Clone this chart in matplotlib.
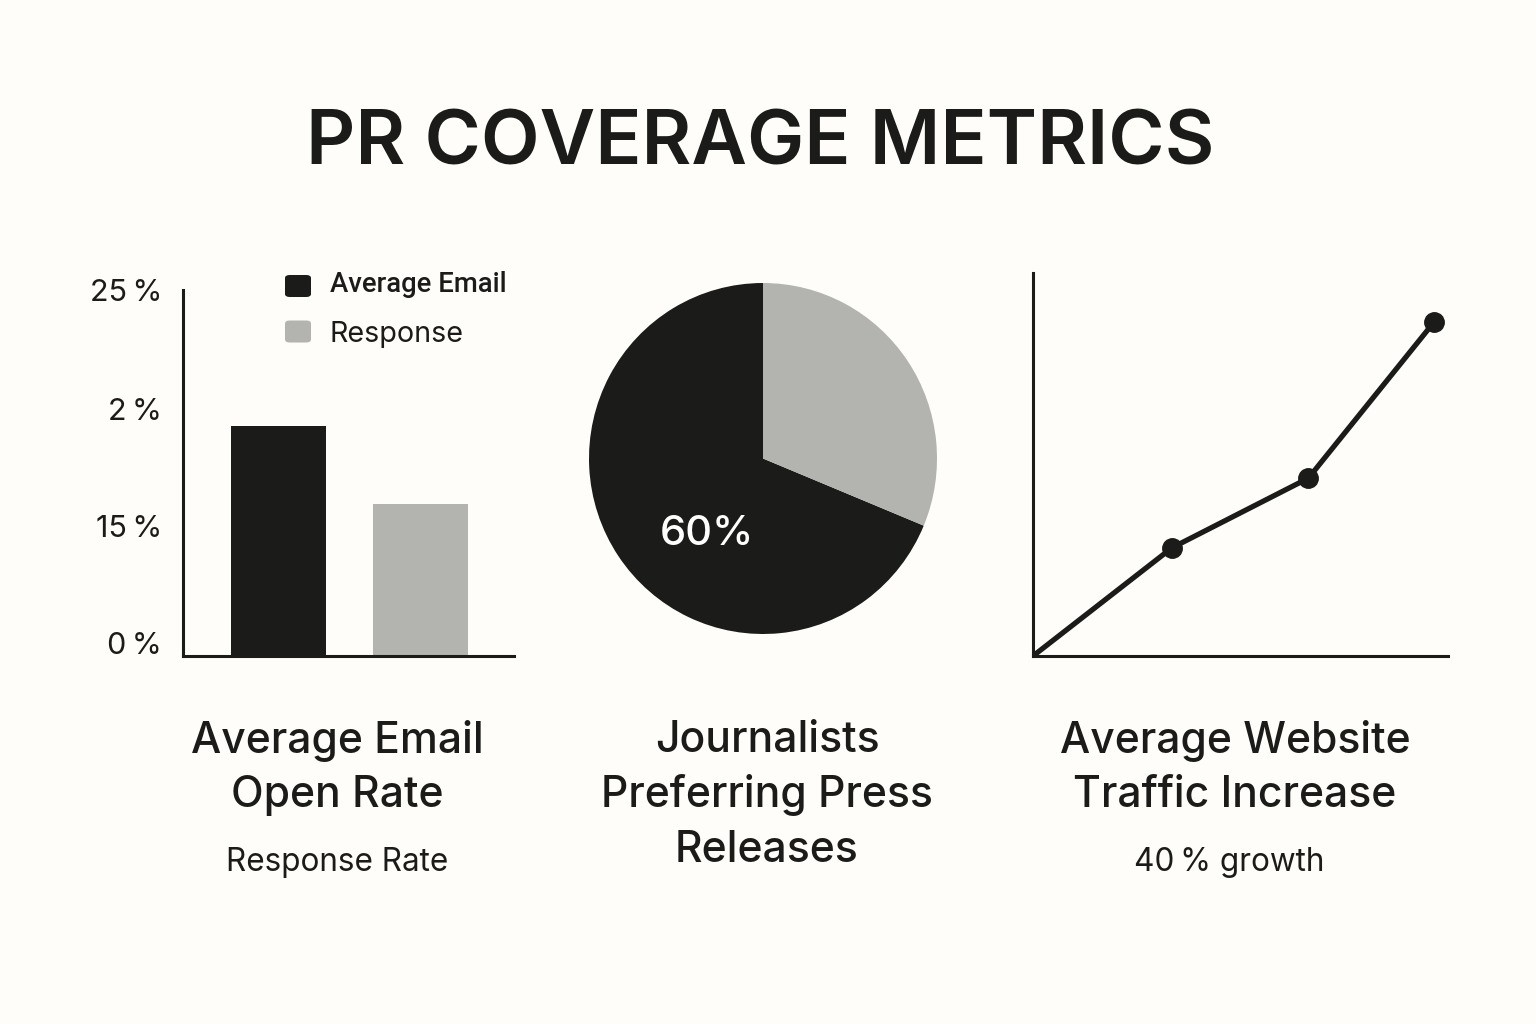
import matplotlib
matplotlib.use("Agg")
import matplotlib.pyplot as plt
from matplotlib.patches import FancyBboxPatch

plt.rcParams['font.family'] = ['Inter', 'DejaVu Sans']

INK = '#1b1b19'
GREY = '#b3b3af'
BG = '#fffdf9'

# bar panel
bar_labels = ['Average Email', 'Response']
bar_values = [15.7, 10.4]
bar_ticks = [0.9, 8.9, 16.9, 25]
bar_ticklabels = ['0\u2009%', '15\u2009%', '2\u2009%', '25\u2009%']

# pie panel
pie_values = [68.75, 31.25]
pie_label = '60%'

# line panel
line_x = [0, 1.04, 2.06, 3]
line_y = [0, 1.54, 2.53, 4.75]

panel_titles = ['Average Email\nOpen Rate', 'Journalists\nPreferring Press\nReleases', 'Average Website\nTraffic Increase']
panel_subs = ['Response Rate', '', '40\u2009% growth']


def px_axes(fig, left, top, right, bottom):
    W, H = 1536., 1024.
    return fig.add_axes([left/W, 1-bottom/H, (right-left)/W, (bottom-top)/H])


def clean_spines(ax):
    for s in ['top', 'right']:
        ax.spines[s].set_visible(False)
    for s in ['left', 'bottom']:
        ax.spines[s].set_linewidth(2.2)
        ax.spines[s].set_color(INK)


fig = plt.figure(figsize=(15.36, 10.24), dpi=100, facecolor=BG)

fig.text(760/1536, 1-145/1024, 'PR COVERAGE METRICS', ha='center', va='center',
         fontsize=55, fontweight='semibold', color=INK)

# bars
ax = px_axes(fig, 183, 290, 514, 656)
ax.set_facecolor('none')
ax.bar([0, 1], bar_values, width=0.67, color=[INK, GREY])
ax.set_xlim(-0.67, 1.66)
ax.set_ylim(0, 25)
ax.set_xticks([])
ax.set_yticks(bar_ticks)
ax.set_yticklabels(bar_ticklabels, fontsize=22, color=INK)
ax.tick_params(axis='y', length=0, pad=15)
clean_spines(ax)

# legend drawn by hand to sit at the right place
for col, y in zip([INK, GREY], [286, 331.5]):
    fig.add_artist(FancyBboxPatch((285/1536, 1-(y+11)/1024), 26/1536, 22/1024,
                                  boxstyle='round,pad=0,rounding_size=0.003',
                                  transform=fig.transFigure, fc=col, ec='none'))
fig.text(330/1536, 1-285/1024, bar_labels[0], ha='left', va='center', fontsize=19.8,
         fontweight='medium', family=['Roboto', 'DejaVu Sans'], color=INK)
fig.text(330/1536, 1-334/1024, bar_labels[1], ha='left', va='center', fontsize=20.7, color=INK)

# pie
ax = px_axes(fig, 589, 283, 937, 634)
ax.pie(pie_values, colors=[INK, GREY], startangle=90, counterclock=True, radius=1.0)
ax.set_xlim(-1, 1)
ax.set_ylim(-1, 1)
ax.set_aspect('auto')
fig.text(707/1536, 1-534/1024, pie_label, ha='center', va='center', fontsize=30,
         fontweight='medium', color='white')

# line
ax = px_axes(fig, 1033, 273, 1448, 656)
ax.set_facecolor('none')
ax.plot(line_x, line_y, color=INK, lw=3.8)
ax.plot(line_x[1:], line_y[1:], 'o', color=INK, ms=14, clip_on=False)
ax.set_xlim(0, 3.105)
ax.set_ylim(0, 5.45)
ax.set_xticks([])
ax.set_yticks([])
clean_spines(ax)

# captions
for title, sub, cx in zip(panel_titles, panel_subs, [337, 767, 1235]):
    for i, line in enumerate(title.split('\n')):
        fig.text(cx/1536, 1-(741+i*54.5)/1024, line, ha='center', va='center',
                 fontsize=30.7, fontweight='medium', color=INK)
    if sub:
        fig.text((cx-5.5 if sub.startswith('40') else cx)/1536, 1-862/1024, sub, ha='center', va='center',
                 fontsize=22.7, color=INK)

fig.savefig('out.png', dpi=100, facecolor=BG)
